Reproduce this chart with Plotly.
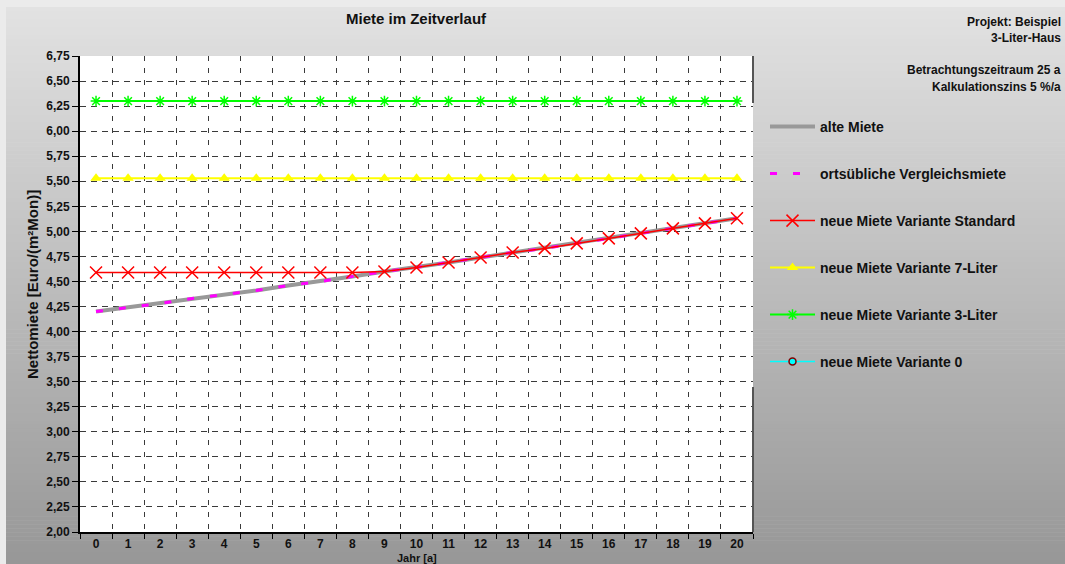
import plotly.graph_objects as go

# ---------------- data ----------------
years = [str(i) for i in range(21)]
alte_miete = [4.20, 4.24, 4.28, 4.33, 4.37, 4.41, 4.46, 4.50, 4.55, 4.60, 4.64,
              4.69, 4.74, 4.79, 4.83, 4.88, 4.93, 4.98, 5.03, 5.08, 5.13]
vergleichsmiete = [4.20, 4.24, 4.28, 4.33, 4.37, 4.41, 4.46, 4.50, 4.55, 4.60, 4.64,
                   4.69, 4.74, 4.79, 4.83, 4.88, 4.93, 4.98, 5.03, 5.08, 5.13]
variante_standard = [4.59, 4.59, 4.59, 4.59, 4.59, 4.59, 4.59, 4.59, 4.59, 4.60, 4.64,
                     4.69, 4.74, 4.79, 4.83, 4.88, 4.93, 4.98, 5.03, 5.08, 5.13]
variante_7liter = [5.53] * 21
variante_3liter = [6.30] * 21
variante_0 = [None] * 21

series_names = ["alte Miete", "ortsübliche Vergleichsmiete", "neue Miete Variante Standard",
                "neue Miete Variante 7-Liter", "neue Miete Variante 3-Liter", "neue Miete Variante 0"]
y_ticks = [2.00 + 0.25 * i for i in range(20)]
y_tick_text = [f"<b>{v:.2f}</b>".replace(".", ",") for v in y_ticks]
x_tick_text = [f"<b>{y}</b>" for y in years]

# ---------------- geometry (pixels) ----------------
W, H = 1065, 564
L, R, T, B = 80, 753, 56, 532
FONT = "Liberation Sans, Arial, sans-serif"
INK = "#111111"


def px_x(x):
    return (x - L) / (R - L)


def px_y(y):
    return (B - y) / (B - T)


fig = go.Figure()

fig.add_trace(go.Scatter(x=years, y=alte_miete, name=f"<b>{series_names[0]}</b>", mode="lines",
                         line=dict(color="#999999", width=4), legendgroup="a"))
fig.add_trace(go.Scatter(x=years, y=vergleichsmiete, name=f"<b>{series_names[1]}</b>", mode="lines",
                         line=dict(color="#ff00ff", width=3, dash="7px,16px"), legendgroup="b"))
fig.add_trace(go.Scatter(x=years, y=variante_standard, name=f"<b>{series_names[2]}</b>",
                         mode="lines+markers",
                         line=dict(color="#ff0000", width=1.5),
                         marker=dict(symbol="x-thin-open", size=12, color="#ff0000",
                                     line=dict(color="#ff0000", width=1.5)), legendgroup="c"))
fig.add_trace(go.Scatter(x=years, y=variante_7liter, name=f"<b>{series_names[3]}</b>",
                         mode="lines+markers",
                         line=dict(color="#ffff00", width=2),
                         marker=dict(symbol="triangle-up", size=10, color="#ffff00"), legendgroup="d"))
fig.add_trace(go.Scatter(x=years, y=variante_3liter, name=f"<b>{series_names[4]}</b>",
                         mode="lines+markers",
                         line=dict(color="#00ff00", width=2),
                         marker=dict(symbol="asterisk-open", size=9, color="#00ff00",
                                     line=dict(color="#00ff00", width=1.5)), legendgroup="e"))
fig.add_trace(go.Scatter(x=years, y=variante_0, name=f"<b>{series_names[5]}</b>",
                         mode="lines+markers",
                         line=dict(color="#00ffff", width=1.5),
                         marker=dict(symbol="circle", size=7, color="#00ffff",
                                     line=dict(color="#800000", width=1.5)), legendgroup="f"))

# ---------------- background gradient ----------------
shapes = []
top_px, bot_px = 7, 564
n = 140
c_top, c_bot = 226, 151
step = (bot_px - top_px) / n
for i in range(n):
    y0 = top_px + i * step
    y1 = y0 + step + 0.6
    c = round(c_top + (c_bot - c_top) * (i + 0.5) / n)
    shapes.append(dict(type="rect", xref="paper", yref="paper", layer="below",
                       x0=px_x(6), x1=px_x(W + 2), y0=px_y(y1), y1=px_y(y0),
                       fillcolor=f"rgb({c},{c},{c})", line=dict(width=0)))
# white plot area
shapes.append(dict(type="rect", xref="paper", yref="paper", layer="below",
                   x0=0, x1=1, y0=0, y1=1, fillcolor="white", line=dict(width=0)))
# right border of plot area (partially hidden by the legend box)
for ya, yb in [(T, 103), (387, B)]:
    shapes.append(dict(type="line", xref="paper", yref="paper", layer="above",
                       x0=1, x1=1, y0=px_y(ya), y1=px_y(yb),
                       line=dict(color="#555555", width=2)))

f12 = dict(family=FONT, size=12, color=INK)
annotations = [
    dict(text="<b>Miete im Zeitverlauf</b>", x=0.5, y=px_y(18), xref="paper", yref="paper",
         showarrow=False, xanchor="center", yanchor="middle",
         font=dict(family=FONT, size=15, color=INK)),
    dict(text="<b>Projekt: Beispiel</b>", x=px_x(1063), y=px_y(22), xref="paper", yref="paper",
         showarrow=False, xanchor="right", yanchor="middle", font=f12),
    dict(text="<b>3-Liter-Haus</b>", x=px_x(1063), y=px_y(38), xref="paper", yref="paper",
         showarrow=False, xanchor="right", yanchor="middle", font=f12),
    dict(text="<b>Betrachtungszeitraum 25 a</b>", x=px_x(1063), y=px_y(70), xref="paper",
         yref="paper", showarrow=False, xanchor="right", yanchor="middle", font=f12),
    dict(text="<b>Kalkulationszins 5 %/a</b>", x=px_x(1063), y=px_y(87), xref="paper",
         yref="paper", showarrow=False, xanchor="right", yanchor="middle", font=f12),
    dict(text="<b>Nettomiete [Euro/(m²Mon)]</b>", x=px_x(32), y=px_y(285), xref="paper",
         yref="paper", showarrow=False, xanchor="center", yanchor="middle", textangle=-90,
         font=dict(family=FONT, size=15, color=INK)),
    dict(text="<b>Jahr [a]</b>", x=0.5, y=px_y(557.5), xref="paper", yref="paper",
         showarrow=False, xanchor="center", yanchor="middle",
         font=dict(family=FONT, size=11, color=INK)),
]

fig.update_layout(
    width=W, height=H,
    margin=dict(l=L, r=W - R, t=T, b=H - B, pad=0, autoexpand=False),
    paper_bgcolor="#ebebeb",
    plot_bgcolor="rgba(0,0,0,0)",
    font=dict(family=FONT, size=12, color=INK),
    shapes=shapes,
    annotations=annotations,
    showlegend=True,
    legend=dict(x=px_x(765), y=px_y(111), xanchor="left", yanchor="top",
                bgcolor="rgba(0,0,0,0)", borderwidth=0,
                font=dict(family=FONT, size=14, color=INK),
                itemwidth=45, tracegroupgap=25.8, traceorder="grouped"),
    xaxis=dict(type="category", range=[-0.5, 20.5], tickson="boundaries",
               tickvals=years, ticktext=x_tick_text, automargin=False,
               showgrid=True, gridcolor="#3a3a3a", gridwidth=1, griddash="5px,7px",
               showline=True, linecolor="#000000", linewidth=2,
               ticks="outside", ticklen=5, tickcolor="#000000", tickwidth=1,
               ticklabelstandoff=0,
               tickfont=f12, zeroline=False, fixedrange=True),
    yaxis=dict(range=[2.0, 6.75], tickvals=y_ticks, ticktext=y_tick_text, automargin=False,
               showgrid=True, gridcolor="#3a3a3a", gridwidth=1, griddash="6px,5px",
               showline=True, linecolor="#000000", linewidth=2,
               ticks="outside", ticklen=6, tickcolor="#000000", tickwidth=1,
               tickfont=f12, zeroline=False, fixedrange=True),
)

fig.write_html("out.html")
